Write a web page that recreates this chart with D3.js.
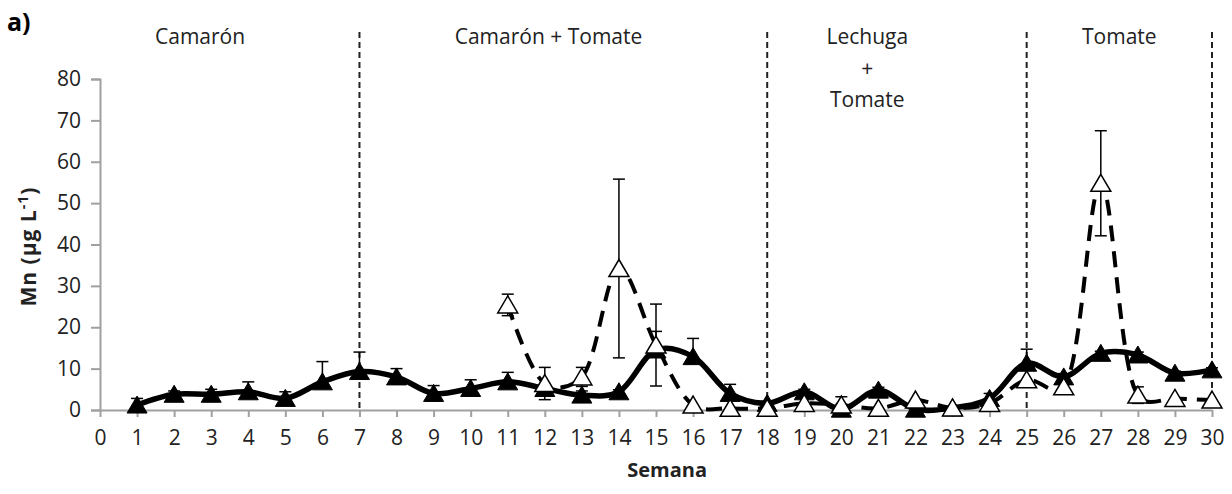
<!DOCTYPE html>
<html>
<head>
<meta charset="utf-8">
<script src="https://cdn.jsdelivr.net/npm/d3@7"></script>
<style>
  body { margin: 0; background: #fff; }
  svg { display: block; font-family: "Open Sans", sans-serif; }
</style>
</head>
<body>
<svg id="chart" width="1232" height="494"></svg>
<script>
const weeks = [1, 2, 3, 4, 5, 6, 7, 8, 9, 10, 11, 12, 13, 14, 15, 16, 17, 18, 19, 20, 21, 22, 23, 24, 25, 26, 27, 28, 29, 30]
// filled triangles, solid line
const filledMean = [1.2, 3.8, 3.8, 4.4, 2.8, 6.8, 9.3, 8.0, 4.0, 5.2, 6.8, 5.2, 3.6, 4.4, 14.5, 12.9, 4.0, 1.6, 4.4, 0.2, 4.8, 0.2, 0.5, 2.8, 11.3, 8.0, 13.7, 13.3, 8.9, 9.7]
const filledErr = [1.6, 0.8, 1.2, 2.4, 1.6, 4.9, 4.7, 2.0, 1.9, 2.1, 2.3, 1.0, 1.0, 0.5, 4.5, 4.4, 2.2, 0.5, 0.6, 0.5, 0.7, 0.3, 0.3, 1.2, 3.4, 0.8, 0.5, 0.7, 0.5, 0.5]
// open triangles, dashed line (starts week 11)
const openMean = [null, null, null, null, null, null, null, null, null, null, 25.4, 6.4, 8.0, 34.2, 15.7, 1.2, 0.4, 0.4, 1.6, 1.2, 0.4, 2.4, 0.5, 1.6, 7.3, 5.6, 54.8, 3.6, 2.8, 2.4]
const openErr = [0, 0, 0, 0, 0, 0, 0, 0, 0, 0, 2.6, 3.9, 2.3, 21.6, 9.9, 0, 0, 0, 0, 2.0, 0, 0, 0, 0, 0, 0, 12.7, 2.0, 0, 0]

const yTicks = [0, 10, 20, 30, 40, 50, 60, 70, 80]
const xTicks = d3.range(0, 31)
const phaseBreaks = [7, 18, 25, 30]
const phaseLabels = [
  { at: 2.7, lines: ["Camarón"] },
  { at: 12.1, lines: ["Camarón + Tomate"] },
  { at: 20.7, lines: ["Lechuga", "+", "Tomate"] },
  { at: 27.5, lines: ["Tomate"] }
]

const svg = d3.select('#chart')
const x = d3.scaleLinear().domain([0, 30]).range([100, 1212])
const y = d3.scaleLinear().domain([0, 80]).range([410, 79])
const axisColor = "#a0a0a0"
const textColor = "#222"

// axes
const yAxis = svg.append("g")
  .attr("transform", `translate(${x(0)},0)`)
  .call(d3.axisLeft(y).tickValues(yTicks).tickSize(9).tickSizeOuter(9).tickPadding(10))
const xAxis = svg.append("g")
  .attr("transform", `translate(0,${y(0)})`)
  .call(d3.axisBottom(x).tickValues(xTicks).tickSize(7).tickSizeOuter(0).tickPadding(13))
for (const ax of [yAxis, xAxis]) {
  ax.select(".domain").attr("stroke", axisColor).attr("stroke-width", 2)
  ax.selectAll(".tick line").attr("stroke", axisColor).attr("stroke-width", 2)
  ax.selectAll(".tick text")
    .attr("fill", textColor)
    .style("font-family", "'Open Sans', sans-serif")
    .style("font-size", "21px")
}

// phase separators
svg.append("g").selectAll("line")
  .data(phaseBreaks)
  .join("line")
  .attr("x1", d => x(d)).attr("x2", d => x(d))
  .attr("y1", 32).attr("y2", y(0))
  .attr("stroke", "#222")
  .attr("stroke-width", 2)
  .attr("stroke-dasharray", "6,4")

// phase labels
const pl = svg.append("g").selectAll("text")
  .data(phaseLabels)
  .join("text")
  .attr("text-anchor", "middle")
  .attr("fill", textColor)
  .style("font-size", "21px")
pl.selectAll("tspan")
  .data(d => d.lines.map(l => ({ l, at: d.at })))
  .join("tspan")
  .attr("x", d => x(d.at))
  .attr("y", (d, i) => 44 + i * 31.5)
  .text(d => d.l)

// series
const rows = weeks.map((w, i) => ({ w, a: filledMean[i], ae: filledErr[i], b: openMean[i], be: openErr[i] }))
const curve = d3.curveCatmullRom.alpha(0.35)
const tri = "M0,-9L10,8L-10,8Z"

// filled series
svg.append("path")
  .datum(rows)
  .attr("fill", "none")
  .attr("stroke", "#000")
  .attr("stroke-width", 5.5)
  .attr("stroke-linejoin", "round")
  .attr("d", d3.line().x(d => x(d.w)).y(d => y(d.a)).curve(curve))

const errA = svg.append("g").attr("stroke", "#000").attr("stroke-width", 1.5)
errA.selectAll("line.v").data(rows.filter(d => d.ae > 0)).join("line").attr("class", "v")
  .attr("x1", d => x(d.w)).attr("x2", d => x(d.w))
  .attr("y1", d => y(d.a)).attr("y2", d => y(d.a + d.ae))
errA.selectAll("line.c").data(rows.filter(d => d.ae > 0)).join("line").attr("class", "c")
  .attr("x1", d => x(d.w) - 6).attr("x2", d => x(d.w) + 6)
  .attr("y1", d => y(d.a + d.ae)).attr("y2", d => y(d.a + d.ae))

svg.append("g").selectAll("path")
  .data(rows)
  .join("path")
  .attr("transform", d => `translate(${x(d.w)},${y(d.a)})`)
  .attr("d", tri)
  .attr("fill", "#000")
  .attr("stroke", "#000")
  .attr("stroke-width", 1)

// open series
const openRows = rows.filter(d => d.b != null)
svg.append("path")
  .datum(openRows)
  .attr("fill", "none")
  .attr("stroke", "#000")
  .attr("stroke-width", 4)
  .attr("stroke-dasharray", "16,10")
  .attr("d", d3.line().x(d => x(d.w)).y(d => y(d.b)).curve(curve))

const errB = svg.append("g").attr("stroke", "#000").attr("stroke-width", 1.5)
const eb = openRows.filter(d => d.be > 0)
errB.selectAll("line.v").data(eb).join("line").attr("class", "v")
  .attr("x1", d => x(d.w)).attr("x2", d => x(d.w))
  .attr("y1", d => y(d.b - d.be)).attr("y2", d => y(d.b + d.be))
errB.selectAll("line.t").data(eb).join("line").attr("class", "t")
  .attr("x1", d => x(d.w) - 6).attr("x2", d => x(d.w) + 6)
  .attr("y1", d => y(d.b + d.be)).attr("y2", d => y(d.b + d.be))
errB.selectAll("line.b").data(eb).join("line").attr("class", "b")
  .attr("x1", d => x(d.w) - 6).attr("x2", d => x(d.w) + 6)
  .attr("y1", d => y(d.b - d.be)).attr("y2", d => y(d.b - d.be))

svg.append("g").selectAll("path")
  .data(openRows)
  .join("path")
  .attr("transform", d => `translate(${x(d.w)},${y(d.b)})`)
  .attr("d", tri)
  .attr("fill", "#fff")
  .attr("stroke", "#000")
  .attr("stroke-width", 1.5)

// titles
svg.append("text")
  .attr("x", 7).attr("y", 31)
  .attr("fill", "#000")
  .style("font-size", "25px").style("font-weight", "bold")
  .text("a)")

svg.append("text")
  .attr("x", x(15.3)).attr("y", 477)
  .attr("text-anchor", "middle")
  .attr("fill", textColor)
  .style("font-size", "20px").style("font-weight", "bold")
  .text("Semana")

const yl = svg.append("text")
  .attr("transform", `translate(36,${y(39.5)}) rotate(-90)`)
  .attr("text-anchor", "middle")
  .attr("fill", textColor)
  .style("font-size", "21px").style("font-weight", "bold")
  .style("letter-spacing", "1px")
yl.append("tspan").text("Mn (µg L")
yl.append("tspan").attr("dy", -8).style("font-size", "14px").text("-1")
yl.append("tspan").attr("dy", 8).text(")")
</script>
</body>
</html>
